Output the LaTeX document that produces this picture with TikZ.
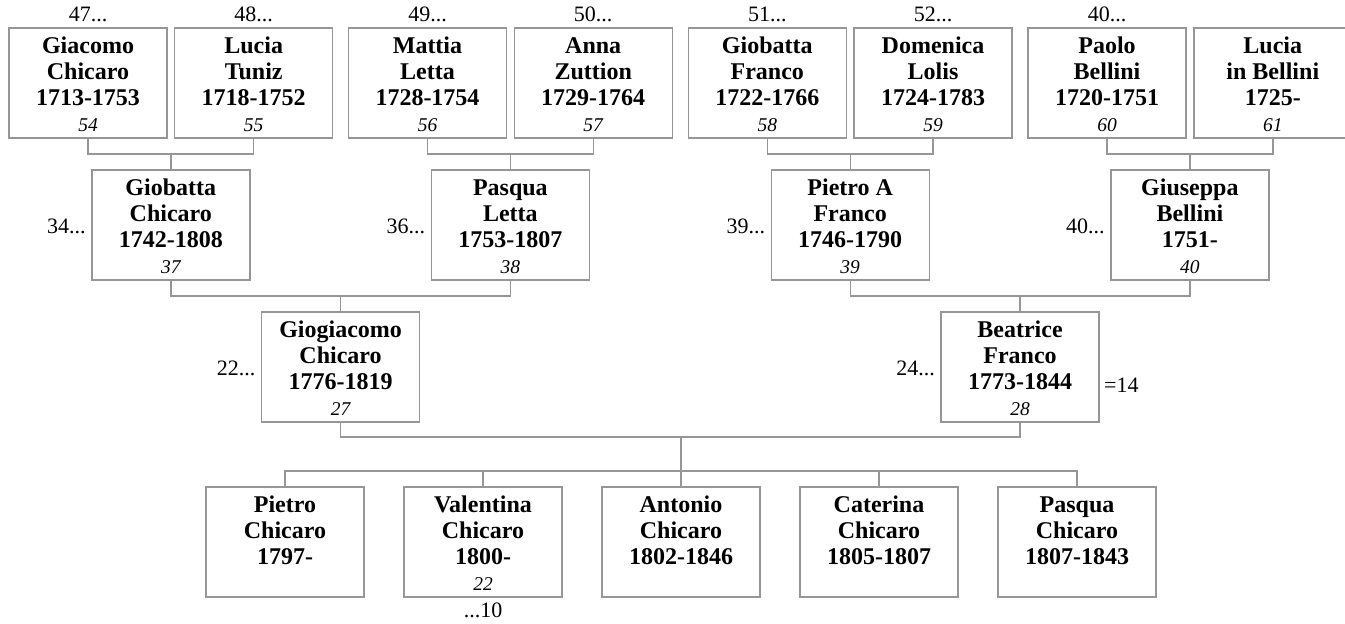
\documentclass[tikz,border=0pt]{standalone}
\usepackage{fontspec}
\setmainfont{Liberation Serif}
\definecolor{boxgray}{RGB}{150,150,150}
\tikzset{
  pbox/.style={draw=boxgray, line width=1.4pt, minimum width=158pt, minimum height=110pt, inner sep=0pt, outer sep=0pt},
  conn/.style={draw=boxgray, line width=1.4pt},
  nm/.style={font=\fontsize{24}{26}\selectfont\bfseries, inner sep=0pt, anchor=base},
  num/.style={font=\fontsize{19.5}{21}\selectfont\itshape, inner sep=0pt, anchor=base},
  lab/.style={font=\fontsize{22}{24}\selectfont, inner sep=0pt},
}
\newcommand{\pers}[7]{%
  \node[pbox] (#1) at (#2,{#3+55}) {};
  \node[nm] (#1a) at (#2,{#3+25}) {#4};
  \node[nm] (#1b) at (#2,{#3+51.3}) {#5};
  \node[nm] (#1c) at (#2,{#3+77.6}) {#6};
  \node[num] (#1d) at (#2,{#3+103.5}) {#7};
}
\begin{document}
\begin{tikzpicture}[x=1pt,y=-1pt]
\path[use as bounding box] (0,0) rectangle (1345,624);
\clip (0,0) rectangle (1345,624);
% row 1
\pers{gc}{88}{28}{Giacomo}{Chicaro}{1713-1753}{54}
\pers{lt}{253.7}{28}{Lucia}{Tuniz}{1718-1752}{55}
\pers{ml}{427.5}{28}{Mattia}{Letta}{1728-1754}{56}
\pers{az}{593.2}{28}{Anna}{Zuttion}{1729-1764}{57}
\pers{gf}{767.3}{28}{Giobatta}{Franco}{1722-1766}{58}
\pers{dl}{933}{28}{Domenica}{Lolis}{1724-1783}{59}
\pers{pb}{1107}{28}{Paolo}{Bellini}{1720-1751}{60}
\pers{lb}{1272.8}{28}{Lucia}{in Bellini}{1725-}{61}
% row 2
\pers{gbc}{170.8}{170}{Giobatta}{Chicaro}{1742-1808}{37}
\pers{pl}{510.4}{170}{Pasqua}{Letta}{1753-1807}{38}
\pers{paf}{850.2}{170}{Pietro A}{Franco}{1746-1790}{39}
\pers{gbe}{1189.9}{170}{Giuseppa}{Bellini}{1751-}{40}
% row 3
\pers{ggc}{340.6}{312}{Giogiacomo}{Chicaro}{1776-1819}{27}
\pers{bfr}{1020}{312}{Beatrice}{Franco}{1773-1844}{28}
% row 4
\pers{ka}{285}{487}{Pietro}{Chicaro}{1797-}{}
\pers{kb}{483}{487}{Valentina}{Chicaro}{1800-}{22}
\pers{kc}{681}{487}{Antonio}{Chicaro}{1802-1846}{}
\pers{kd}{879}{487}{Caterina}{Chicaro}{1805-1807}{}
\pers{ke}{1077}{487}{Pasqua}{Chicaro}{1807-1843}{}
% top labels
\node[lab, anchor=base] (t47) at ([yshift=7pt]gc.north) {47...};
\node[lab, anchor=base] (t48) at ([yshift=7pt]lt.north) {48...};
\node[lab, anchor=base] (t49) at ([yshift=7pt]ml.north) {49...};
\node[lab, anchor=base] (t50) at ([yshift=7pt]az.north) {50...};
\node[lab, anchor=base] (t51) at ([yshift=7pt]gf.north) {51...};
\node[lab, anchor=base] (t52) at ([yshift=7pt]dl.north) {52...};
\node[lab, anchor=base] (t40) at ([yshift=7pt]pb.north) {40...};
% side labels
\node[lab, anchor=east] (s34) at ([xshift=-6pt,yshift=-1pt]gbc.west) {34...};
\node[lab, anchor=east] (s36) at ([xshift=-6pt,yshift=-1pt]pl.west) {36...};
\node[lab, anchor=east] (s39) at ([xshift=-6pt,yshift=-1pt]paf.west) {39...};
\node[lab, anchor=east] (s40) at ([xshift=-6pt,yshift=-1pt]gbe.west) {40...};
\node[lab, anchor=east] (s22) at ([xshift=-6pt,yshift=-1pt]ggc.west) {22...};
\node[lab, anchor=east] (s24) at ([xshift=-6pt,yshift=-1pt]bfr.west) {24...};
\node[lab, anchor=base west] (s14) at ([xshift=5pt,yshift=-25pt]bfr.east) {=14};
\node[lab, anchor=base] (s10) at ([yshift=-20pt]kb.south) {...10};
% connectors row1 -> row2
\draw[conn] (gc.south) -- ++(0,16) -| (lt.south);
\draw[conn] (gbc.north) -- ++(0,-16);
\draw[conn] (ml.south) -- ++(0,16) -| (az.south);
\draw[conn] (pl.north) -- ++(0,-16);
\draw[conn] (gf.south) -- ++(0,16) -| (dl.south);
\draw[conn] (paf.north) -- ++(0,-16);
\draw[conn] (pb.south) -- ++(0,16) -| (lb.south);
\draw[conn] (gbe.north) -- ++(0,-16);
% row2 -> row3
\draw[conn] (gbc.south) -- ++(0,16) -| (pl.south);
\draw[conn] (ggc.north) -- ++(0,-16);
\draw[conn] (paf.south) -- ++(0,16) -| (gbe.south);
\draw[conn] (bfr.north) -- ++(0,-16);
% row3 -> children
\draw[conn] (ggc.south) -- ++(0,15) -| (bfr.south);
\coordinate (fam) at (681,437);
\draw[conn] (fam) -- (kc.north);
\draw[conn] (ka.north) -- ++(0,-16) -| (ke.north);
\draw[conn] (kb.north) -- ++(0,-16);
\draw[conn] (kd.north) -- ++(0,-16);
\end{tikzpicture}
\end{document}
